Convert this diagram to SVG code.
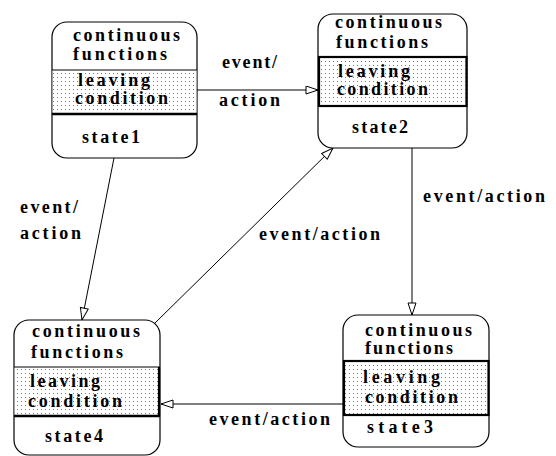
<svg xmlns="http://www.w3.org/2000/svg" width="556" height="456" viewBox="0 0 556 456">
<defs>
<pattern id="dots" width="4" height="4" patternUnits="userSpaceOnUse">
<rect width="4" height="4" fill="#fff"/>
<rect x="1" y="1" width="1" height="1" fill="#777"/>
</pattern>
<marker id="arr" markerUnits="userSpaceOnUse" markerWidth="14" markerHeight="10" refX="13" refY="4.5" orient="auto">
<path d="M1,0.5 L13,4.5 L1,8.5 Z" fill="#fff" stroke="#000" stroke-width="1"/>
</marker>
<style>
text{font-family:"Liberation Serif","Times New Roman",serif;font-size:18px;font-weight:bold;fill:#000;}
.box{fill:#fff;stroke:#000;stroke-width:1.2;}
.shade{fill:url(#dots);stroke:none;}
.thick{stroke:#000;stroke-width:2.5;}
.thin{stroke:#000;stroke-width:1.2;}
.edge{fill:none;stroke:#000;stroke-width:2.2;}
.conn{stroke:#000;stroke-width:1;fill:none;marker-end:url(#arr);}
</style>
</defs>

<g id="connectors">
<line class="conn" x1="197" y1="90" x2="318" y2="90"/>
<line class="conn" x1="114" y1="158" x2="82" y2="320"/>
<line class="conn" x1="155" y1="323" x2="333" y2="148"/>
<line class="conn" x1="412" y1="148" x2="412" y2="315"/>
<line class="conn" x1="343" y1="404" x2="161" y2="404"/>
<text x="222" y="68" textLength="55">event/</text>
<text x="219" y="106" textLength="61">action</text>
<text x="20" y="213" textLength="58">event/</text>
<text x="20" y="239" textLength="61">action</text>
<text x="259" y="240" textLength="121">event/action</text>
<text x="423" y="202" textLength="122">event/action</text>
<text x="209" y="425" textLength="121">event/action</text>
</g>

<g id="state1">
<rect class="box" x="52" y="22" width="145" height="136" rx="15" ry="15"/>
<rect class="shade" x="52.6" y="70" width="143.8" height="44"/>
<line class="thin" x1="52" y1="70" x2="197" y2="70"/>
<line class="thick" x1="52" y1="114" x2="197" y2="114"/>
<text x="73" y="41" textLength="107">continuous</text>
<text x="73" y="60" textLength="94">functions</text>
<text x="78" y="86" textLength="72">leaving</text>
<text x="75" y="104" textLength="93">condition</text>
<text x="82" y="143" textLength="58">state1</text>
</g>

<g id="state2">
<rect class="box" x="318" y="14" width="149" height="134" rx="15" ry="15"/>
<rect class="shade" x="318.6" y="57" width="147.8" height="49"/>
<rect class="edge" x="319" y="57" width="147.5" height="49"/>
<text x="335" y="28" textLength="107">continuous</text>
<text x="336" y="48" textLength="92">functions</text>
<text x="338" y="77" textLength="72">leaving</text>
<text x="337" y="95" textLength="91">condition</text>
<text x="352" y="133" textLength="56">state2</text>
</g>

<g id="state3">
<rect class="box" x="343" y="315" width="146" height="132" rx="15" ry="15"/>
<rect class="shade" x="343.6" y="361" width="144.8" height="54"/>
<rect class="edge" x="344" y="361" width="144.5" height="54"/>
<text x="365" y="336" textLength="107">continuous</text>
<text x="365" y="354" textLength="88">functions</text>
<text x="363" y="383" textLength="77">leaving</text>
<text x="365" y="403" textLength="93">condition</text>
<text x="367" y="433" textLength="66">state3</text>
</g>

<g id="state4">
<rect class="box" x="14" y="320" width="146" height="135" rx="15" ry="15"/>
<rect class="shade" x="14.6" y="367" width="144.8" height="49"/>
<line class="thin" x1="14" y1="367" x2="160" y2="367"/>
<line class="thick" x1="14" y1="416" x2="160" y2="416"/>
<line class="edge" x1="159" y1="367" x2="159" y2="416"/>
<text x="32" y="337" textLength="108">continuous</text>
<text x="31" y="358" textLength="92">functions</text>
<text x="30" y="387" textLength="70">leaving</text>
<text x="28" y="407" textLength="94">condition</text>
<text x="45" y="442" textLength="58">state4</text>
</g>
</svg>
